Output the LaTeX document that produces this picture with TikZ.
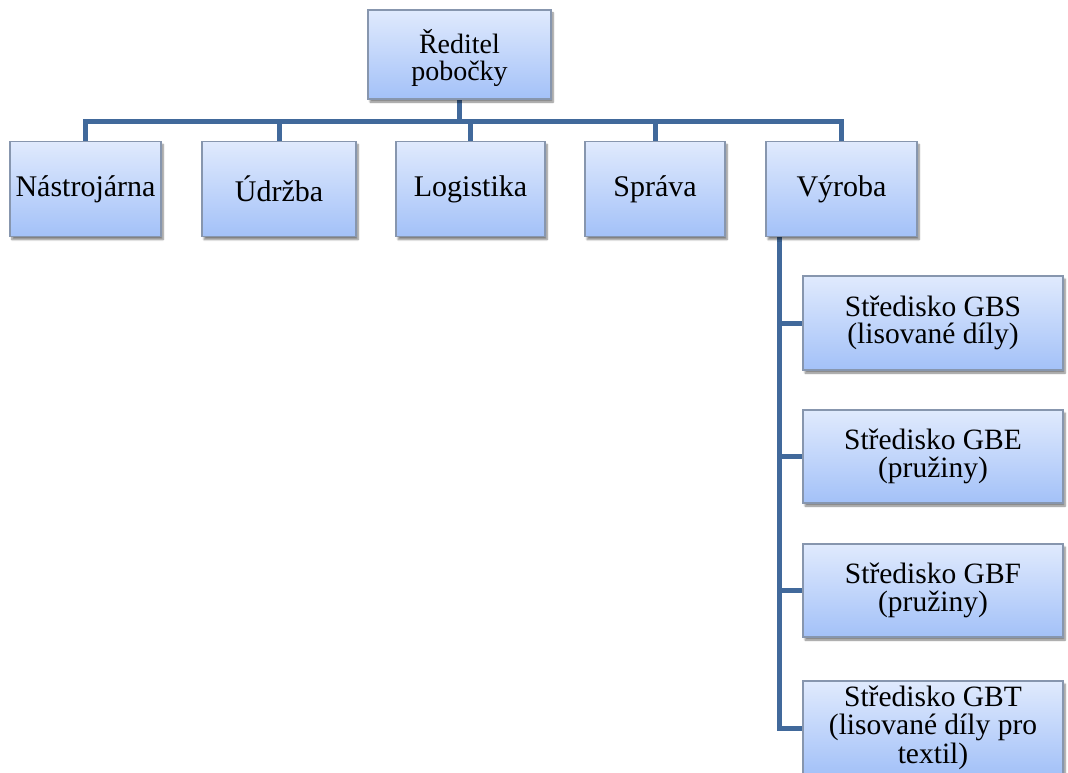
\documentclass[tikz,border=0pt]{standalone}
\usepackage{fontspec}
\setmainfont{Liberation Serif}
\usetikzlibrary{shadows.blur,backgrounds}
\definecolor{boxtop}{HTML}{E0EAFD}
\definecolor{boxbot}{HTML}{A3C1F8}
\definecolor{boxline}{HTML}{8796AE}
\definecolor{linkcol}{HTML}{41699B}
\tikzset{
  unit/.style={draw=boxline, line width=1.2pt, top color=boxtop, bottom color=boxbot,
    inner sep=0pt, align=center, font=\fontsize{29.5}{27.5}\selectfont,
    blur shadow={shadow xshift=2pt, shadow yshift=-3pt, shadow blur steps=6, shadow opacity=50}},
  caption/.style={inner sep=0pt, align=center, font=\fontsize{29.5}{28.5}\selectfont},
  link/.style={draw=linkcol, line width=5pt, line join=miter}
}
\begin{document}
\begin{tikzpicture}[x=1pt,y=-1pt]
\useasboundingbox (0,0) rectangle (1068,773);
\clip (0,0) rectangle (1068,773);
% boxes
\node[unit, minimum width=183pt, minimum height=89pt] (top) at (459.5,54.5) {};
\node[caption, font=\fontsize{28}{27}\selectfont] (toptext) at (459.5,58) {Ředitel\\pobočky};
\node[unit, minimum width=151pt, minimum height=95pt, font=\fontsize{30}{30}\selectfont] (nast) at (85.5,189) {Nástrojárna};
\node[unit, minimum width=154pt, minimum height=95pt, font=\fontsize{30}{30}\selectfont] (udr) at (279,189) {Údržba};
\node[unit, minimum width=149pt, minimum height=95pt, font=\fontsize{30}{30}\selectfont] (log) at (470.5,189) {Logistika};
\node[unit, minimum width=140pt, minimum height=95pt, font=\fontsize{30}{30}\selectfont] (spr) at (655,189) {Správa};
\node[unit, minimum width=151pt, minimum height=95pt, font=\fontsize{30}{30}\selectfont] (vyr) at (841.5,189) {Výroba};
\node[unit, minimum width=260pt, minimum height=94pt] (gbs) at (933,323) {Středisko GBS\\(lisované díly)};
\node[unit, minimum width=260pt, minimum height=93pt] (gbe) at (933,456.5) {Středisko GBE\\(pružiny)};
\node[unit, minimum width=260pt, minimum height=93pt] (gbf) at (933,590.5) {Středisko GBF\\(pružiny)};
\node[unit, minimum width=260pt, minimum height=94pt] (gbt) at (933,728) {};
% the three-line text fills its box and runs past the lower edge
\node[caption] (gbttext) at (933,727.5) {Středisko GBT\\(lisované díly pro\\textil)};
% bus and trunk positions
\coordinate (bus) at (0,122);
\coordinate (trunk) at (779,0);
% connectors, drawn behind the boxes
\begin{scope}[on background layer]
  \draw[link] (top.south) -- (top.south |- bus);
  \draw[link] (nast.north) -- (nast.north |- bus) -- (vyr.north |- bus) -- (vyr.north);
  \draw[link] (udr.north) -- (udr.north |- bus);
  \draw[link] (log.north) -- (log.north |- bus);
  \draw[link] (spr.north) -- (spr.north |- bus);
  \draw[link] (trunk |- vyr.south) -- (trunk |- gbt.west) -- (gbt.west);
  \draw[link] (trunk |- gbs.west) -- (gbs.west);
  \draw[link] (trunk |- gbe.west) -- (gbe.west);
  \draw[link] (trunk |- gbf.west) -- (gbf.west);
\end{scope}
\end{tikzpicture}
\end{document}
